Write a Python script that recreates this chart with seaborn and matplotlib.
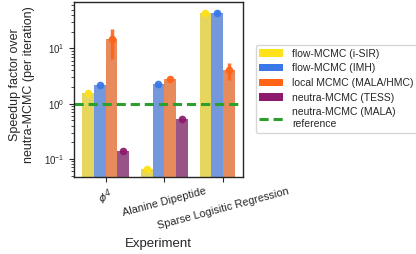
import numpy as np
import pandas as pd
import matplotlib
matplotlib.use("Agg")
import matplotlib.pyplot as plt
import seaborn as sns
from matplotlib.lines import Line2D
from matplotlib.patches import Patch

experiments = ["$\\phi^4$", "Alanine Dipeptide", "Sparse Logisitic Regression"]
methods = ["flow-MCMC (i-SIR)", "flow-MCMC (IMH)", "local MCMC (MALA/HMC)", "neutra-MCMC (TESS)"]
isir = [1.57, 0.066, 44.6]
imh = [2.2, 2.28, 44.0]
local = [14.6, 2.77, 4.0]
tess = [0.14, 0.53, np.nan]
isir_lo = [1.45, 0.062, 41.0]
isir_hi = [1.75, 0.070, 48.0]
imh_lo = [2.1, 2.2, 41.0]
imh_hi = [2.3, 2.36, 48.0]
local_lo = [6.5, 2.65, 2.7]
local_hi = [22.8, 2.9, 5.5]
tess_lo = [0.135, 0.51, np.nan]
tess_hi = [0.145, 0.55, np.nan]
reference = 1.0

colors = ["#FFE119", "#3A78E8", "#FF6418", "#8E1A6E"]
ref_color = "#2CA02C"

sns.set_style("ticks")
plt.rcParams["font.family"] = ["Liberation Sans", "DejaVu Sans"]
plt.rcParams["mathtext.fontset"] = "dejavusans"

rows = []
vals = [isir, imh, local, tess]
los = [isir_lo, imh_lo, local_lo, tess_lo]
his = [isir_hi, imh_hi, local_hi, tess_hi]
for m, v in zip(methods, vals):
    for e, x in zip(experiments, v):
        rows.append({"Experiment": e, "Method": m, "value": x})
df = pd.DataFrame(rows)

fig = plt.figure(figsize=(4.16, 2.54), dpi=100)
ax = fig.add_axes([0.178, 0.303, 0.406, 0.689])
sns.barplot(data=df, x="Experiment", y="value", hue="Method", hue_order=methods,
            order=experiments, palette=colors, alpha=0.8, errorbar=None,
            width=0.8, ax=ax, legend=False, linewidth=0)
ax.set_yscale("log")

n_exp = len(experiments)
w = 0.8 / len(methods)
for j, (m, v, lo, hi) in enumerate(zip(methods, vals, los, his)):
    xs = np.arange(n_exp) - 0.4 + w * (j + 0.5)
    v = np.array(v, dtype=float)
    lo = np.array(lo, dtype=float)
    hi = np.array(hi, dtype=float)
    ok = ~np.isnan(v)
    ax.errorbar(xs[ok], v[ok], yerr=[v[ok] - lo[ok], hi[ok] - v[ok]], fmt="o",
                color=colors[j], ms=4.5, elinewidth=2.5, capsize=0, alpha=0.9)

ax.axhline(reference, color=ref_color, ls="--", lw=2.2, dashes=(3, 1.6))
ax.set_ylim(0.047, 69)
ax.set_xlim(-0.54, 2.34)
for s in ["top", "right", "left", "bottom"]:
    ax.spines[s].set_visible(True)
    ax.spines[s].set_linewidth(1.0)
ax.tick_params(axis="y", labelsize=7)
ax.tick_params(axis="x", labelsize=7.8, length=3.5, pad=3)
ax.set_ylabel("Speedup factor over\nneutra-MCMC (per iteration)", fontsize=9)
ax.yaxis.set_label_coords(-0.23, 0.53)
ax.set_xlabel("Experiment", fontsize=9.5, labelpad=5)
for lab in ax.get_xticklabels():
    lab.set_rotation(15)
    lab.set_ha("center")

handles = [Patch(facecolor=c, edgecolor="none") for c in colors]
handles.append(Line2D([0], [0], color=ref_color, ls="--", lw=2.2, dashes=(3, 1.6)))
labels = methods + ["neutra-MCMC (MALA)\nreference"]
fig.legend(handles, labels, loc="upper left", bbox_to_anchor=(0.615, 0.823),
           borderaxespad=0, fontsize=7.5, frameon=True, handlelength=2.3,
           borderpad=0.35, labelspacing=0.45, handletextpad=0.8)

fig.savefig("out.png", dpi=100)
